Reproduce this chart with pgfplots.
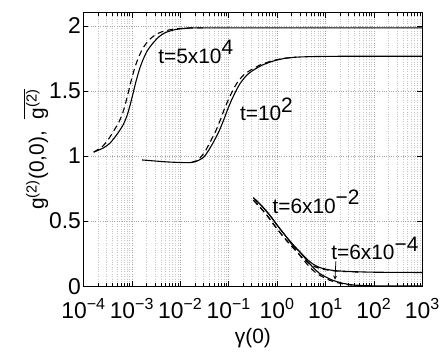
\documentclass[border=0pt]{standalone}
\usepackage{fontspec}
\setmainfont{Liberation Sans}
\usepackage{pgfplots}
\pgfplotsset{compat=1.18}

\begin{document}
\begin{tikzpicture}
\begin{axis}[
  scale only axis, width=341pt, height=275pt,
  xmode=log, xmin=1e-4, xmax=1e3, ymin=0, ymax=2.1,
  xtick={1e-4,1e-3,1e-2,1e-1,1,10,100,1000},
  xticklabels={10\textsuperscript{−4},10\textsuperscript{−3},10\textsuperscript{−2},10\textsuperscript{−1},10\textsuperscript{0},10\textsuperscript{1},10\textsuperscript{2},10\textsuperscript{3}},
  ytick={0,0.5,1,1.5,2}, yticklabels={0,0.5,1,1.5,2},
  tick label style={font=\fontsize{23}{26}\selectfont},
  xticklabel style={yshift=-9pt},
  yticklabel style={xshift=1pt},
  grid=both,
  major grid style={dotted, gray!70, line width=0.6pt},
  minor grid style={dotted, gray!45, line width=0.6pt},
  tick align=inside, major tick length=5pt, minor tick length=3pt,
  tick style={black, line width=0.6pt},
  axis line style={line width=1.1pt},
  xlabel={γ(0)}, xlabel style={font=\fontsize{21}{24}\selectfont, yshift=-3pt},
  ylabel={g\textsuperscript{(2)}(0,0),\ \ $\overline{\mbox{g\textsuperscript{(2)}}}$},
  ylabel style={font=\fontsize{21}{24}\selectfont, yshift=-6pt},
  sol/.style={black, solid, no markers, line width=1.1pt, smooth, tension=0.4},
  das/.style={black, no markers, line width=1.1pt, smooth, tension=0.4, dash pattern=on 6pt off 4pt},
  clip=true,
]
% t = 5x10^4
\addplot[sol] coordinates {(1.6218e-4,1.03)(2.5119e-4,1.06)(3.5481e-4,1.10)(5.0119e-4,1.17)(6.6069e-4,1.24)(7.9433e-4,1.31)(9.3325e-4,1.40)(1.0715e-3,1.49)(1.2303e-3,1.58)(1.4454e-3,1.67)(1.6982e-3,1.74)(2.0893e-3,1.81)(2.7542e-3,1.87)(3.7154e-3,1.92)(5.0119e-3,1.95)(7.9433e-3,1.972)(1.4125e-2,1.982)(3.1623e-2,1.985)(1000,1.985)};
\addplot[das] coordinates {(1.6218e-4,1.03)(2.3988e-4,1.07)(3.1623e-4,1.12)(4.1687e-4,1.19)(5.3703e-4,1.26)(6.4565e-4,1.33)(7.5858e-4,1.42)(8.7096e-4,1.51)(1.0e-3,1.60)(1.1749e-3,1.69)(1.3804e-3,1.76)(1.6982e-3,1.83)(2.2387e-3,1.89)(3.0200e-3,1.93)(4.1687e-3,1.955)(7.0795e-3,1.975)(1.2589e-2,1.983)(3.1623e-2,1.985)};
% t = 10^2
\addplot[sol] coordinates {(1.6218e-3,0.97)(5.2481e-3,0.955)(1.1220e-2,0.95)(1.6596e-2,0.95)(2.2387e-2,0.962)(3.0200e-2,0.99)(3.8019e-2,1.04)(4.8978e-2,1.11)(6.3096e-2,1.19)(7.9433e-2,1.28)(9.5499e-2,1.36)(1.1482e-1,1.43)(1.4125e-1,1.50)(1.7378e-1,1.56)(2.3442e-1,1.62)(3.2359e-1,1.66)(5.0119e-1,1.70)(8.3176e-1,1.73)(1.4125,1.75)(2.5119,1.76)(6.3096,1.765)(31.623,1.767)(1000,1.767)};
\addplot[das] coordinates {(1.6596e-2,0.95)(2.0893e-2,0.962)(2.6303e-2,0.99)(3.3113e-2,1.04)(4.1687e-2,1.11)(5.3703e-2,1.19)(6.7608e-2,1.28)(8.1283e-2,1.36)(9.7724e-2,1.43)(1.2023e-1,1.50)(1.4791e-1,1.56)(1.9953e-1,1.62)(2.8184e-1,1.66)(4.4668e-1,1.70)(7.5858e-1,1.73)(1.3183,1.75)(2.5119,1.76)};
% t = 6x10^-2
\addplot[sol] coordinates {(3.2359e-1,0.68)(5.0119e-1,0.61)(7.2444e-1,0.54)(1.0471,0.46)(1.5488,0.38)(2.1380,0.32)(3.0200,0.26)(4.0738,0.21)(5.4954,0.17)(7.4131,0.145)(10.233,0.13)(15.136,0.12)(22.909,0.115)(50.119,0.11)(109.65,0.107)(1000,0.105)};
\addplot[das] coordinates {(3.2359e-1,0.66)(4.3652e-1,0.61)(6.3096e-1,0.54)(9.1201e-1,0.46)(1.3490,0.38)(1.8621,0.32)(2.6303,0.26)(3.5481,0.21)(4.7863,0.17)(6.4565,0.145)(8.9125,0.13)(13.183,0.12)(19.953,0.114)(50.119,0.108)};
% t = 6x10^-4
\addplot[sol] coordinates {(3.2359e-1,0.68)(5.0119e-1,0.61)(7.2444e-1,0.54)(1.0471,0.46)(1.5488,0.38)(2.1380,0.31)(3.0200,0.26)(4.0738,0.20)(5.4954,0.145)(7.4131,0.10)(10.233,0.07)(14.125,0.045)(22.909,0.022)(39.811,0.008)(100,0.002)(1000,0.001)};
\addplot[das] coordinates {(3.2359e-1,0.66)(4.3652e-1,0.61)(6.3096e-1,0.54)(9.1201e-1,0.46)(1.3490,0.38)(1.8621,0.32)(2.6303,0.26)(3.5481,0.20)(4.7863,0.145)(6.4565,0.10)(8.9125,0.07)(12.303,0.045)(19.953,0.022)(34.674,0.008)(87.096,0.002)};
% labels
\node[font=\fontsize{21}{24}\selectfont, inner sep=0pt] at (axis cs:2.089e-2,1.80) {t=5x10\raisebox{0.42em}{4}};
\node[font=\fontsize{21}{24}\selectfont, inner sep=0pt] at (axis cs:0.6026,1.36) {t=10\raisebox{0.42em}{2}};
\node[font=\fontsize{21}{24}\selectfont, inner sep=0pt] at (axis cs:6.38,0.65) {t=6x10\raisebox{0.42em}{−2}};
\node[font=\fontsize{21}{24}\selectfont, inner sep=0pt] at (axis cs:104.7,0.29) {t=6x10\raisebox{0.42em}{−4}};
\draw[-stealth, line width=0.8pt] (axis cs:16.4,0.19) -- (axis cs:15.7,0.05);
\end{axis}
\path (current axis.south west) +(-84pt,-57pt) (current axis.north east) +(18pt,13pt);
\end{tikzpicture}
\end{document}
